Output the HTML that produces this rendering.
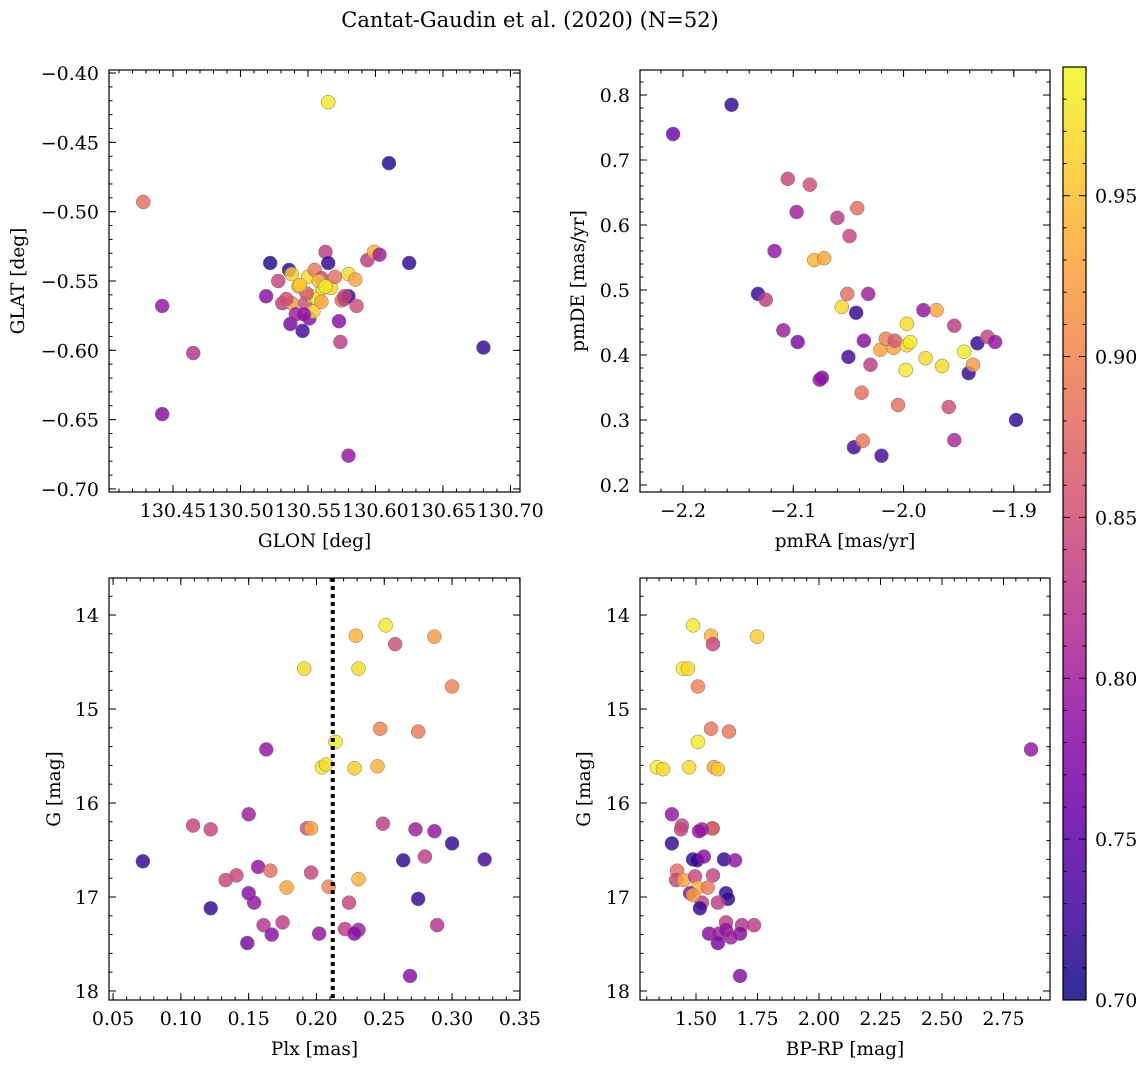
<!DOCTYPE html>
<html><head><meta charset="utf-8"><style>
body{margin:0;background:#fff;}
svg text{font-family:"DejaVu Serif","Liberation Serif",serif;fill:#000;}
</style></head><body>
<svg id="fig" width="1148" height="1067" xmlns="http://www.w3.org/2000/svg">
<text x="530" y="27" font-size="21" text-anchor="middle">Cantat-Gaudin et al. (2020) (N=52)</text>
</svg>
<script>
// ---- Panel 1: GLON vs GLAT ----
const glon=[130.565,130.610,130.428,130.522,130.536,130.519,130.528,130.531,130.537,130.538,130.543,130.546,130.548,130.550,130.551,130.553,130.555,130.557,130.560,130.561,130.563,130.565,130.567,130.573,130.575,130.577,130.574,130.580,130.580,130.585,130.586,130.594,130.599,130.603,130.625,130.680,130.442,130.465,130.442,130.580,130.541,130.558,130.549,130.554,130.534,130.544,130.560,130.570,130.547,130.563,130.577,130.538];
const glat=[-0.421,-0.465,-0.493,-0.537,-0.542,-0.561,-0.550,-0.566,-0.581,-0.566,-0.554,-0.586,-0.566,-0.547,-0.577,-0.561,-0.542,-0.563,-0.548,-0.555,-0.529,-0.537,-0.555,-0.579,-0.564,-0.563,-0.594,-0.561,-0.545,-0.549,-0.568,-0.535,-0.529,-0.531,-0.537,-0.598,-0.568,-0.602,-0.646,-0.676,-0.574,-0.550,-0.559,-0.572,-0.563,-0.553,-0.565,-0.547,-0.574,-0.554,-0.561,-0.545];
const prob1=[0.98,0.71,0.88,0.71,0.72,0.78,0.84,0.83,0.77,0.92,0.93,0.73,0.85,0.97,0.78,0.98,0.89,0.98,0.84,0.98,0.83,0.72,0.97,0.78,0.88,0.84,0.83,0.72,0.97,0.93,0.85,0.83,0.94,0.80,0.72,0.72,0.79,0.82,0.78,0.79,0.80,0.95,0.86,0.96,0.85,0.96,0.93,0.88,0.79,0.98,0.84,0.96];
// ---- Panel 2: pmRA vs pmDE ----
const pmra=[-2.209,-2.156,-2.105,-2.085,-2.097,-2.060,-2.042,-2.049,-2.117,-2.081,-2.072,-2.132,-2.125,-2.051,-2.032,-2.056,-2.043,-2.109,-2.096,-2.036,-2.050,-2.030,-2.074,-2.076,-2.038,-2.045,-2.037,-2.020,-2.005,-2.021,-2.009,-1.997,-1.997,-1.998,-1.994,-1.980,-1.970,-1.965,-1.954,-1.982,-1.959,-1.954,-1.945,-1.941,-1.937,-1.933,-1.924,-1.917,-1.898,-2.016,-2.008];
const pmde=[0.740,0.785,0.671,0.662,0.620,0.611,0.626,0.583,0.560,0.546,0.549,0.494,0.485,0.494,0.494,0.474,0.465,0.438,0.420,0.422,0.397,0.385,0.365,0.362,0.342,0.258,0.268,0.245,0.323,0.408,0.411,0.415,0.448,0.377,0.420,0.395,0.469,0.383,0.445,0.469,0.320,0.269,0.405,0.372,0.385,0.418,0.428,0.420,0.300,0.425,0.422];
const prob2=[0.76,0.72,0.84,0.85,0.80,0.83,0.88,0.84,0.79,0.94,0.93,0.72,0.83,0.88,0.80,0.97,0.72,0.80,0.77,0.78,0.73,0.83,0.77,0.79,0.88,0.73,0.89,0.73,0.88,0.93,0.93,0.97,0.97,0.98,0.98,0.97,0.93,0.97,0.83,0.79,0.85,0.81,0.98,0.72,0.92,0.72,0.84,0.79,0.72,0.90,0.86];
// ---- Panel 3: Plx vs G ----
const plx=[0.191,0.229,0.251,0.258,0.287,0.300,0.231,0.214,0.204,0.207,0.228,0.245,0.247,0.275,0.163,0.150,0.109,0.122,0.193,0.196,0.072,0.249,0.273,0.287,0.300,0.324,0.264,0.280,0.133,0.141,0.157,0.166,0.196,0.178,0.150,0.209,0.231,0.154,0.175,0.161,0.224,0.202,0.221,0.231,0.228,0.167,0.149,0.275,0.289,0.269,0.122];
const gmag3=[14.57,14.22,14.11,14.31,14.23,14.76,14.57,15.35,15.62,15.59,15.63,15.61,15.21,15.24,15.43,16.12,16.24,16.28,16.27,16.27,16.62,16.22,16.28,16.30,16.43,16.60,16.61,16.57,16.82,16.77,16.68,16.72,16.74,16.90,16.96,16.89,16.81,17.06,17.27,17.30,17.06,17.39,17.34,17.35,17.39,17.40,17.49,17.02,17.30,17.84,17.12];
const prob3=[0.97,0.94,0.98,0.85,0.92,0.90,0.97,0.98,0.98,0.97,0.96,0.94,0.90,0.89,0.79,0.80,0.84,0.84,0.85,0.93,0.72,0.83,0.80,0.79,0.72,0.73,0.72,0.83,0.84,0.84,0.79,0.88,0.84,0.93,0.78,0.90,0.94,0.79,0.83,0.82,0.84,0.79,0.83,0.80,0.78,0.78,0.77,0.72,0.82,0.78,0.72];
const plxCut=[0.212];
// ---- Panel 4: BP-RP vs G ----
const bprp=[1.488,1.561,1.748,1.569,1.447,1.467,1.508,1.561,1.634,1.341,1.366,1.472,1.508,1.573,1.589,2.862,1.402,1.443,1.439,1.565,1.568,1.402,1.488,1.504,1.614,1.532,1.524,1.512,1.569,1.423,1.419,1.451,1.496,1.508,1.548,1.476,1.524,1.516,1.622,1.630,1.589,1.622,1.687,1.736,1.553,1.593,1.622,1.679,1.589,1.679,1.488,1.642,1.659];
const gmag4=[14.11,14.22,14.23,14.31,14.57,14.57,14.76,15.21,15.24,15.62,15.64,15.62,15.35,15.62,15.64,15.43,16.12,16.24,16.28,16.27,16.27,16.43,16.60,16.61,16.60,16.57,16.28,16.30,16.77,16.72,16.82,16.82,16.78,16.90,16.90,16.96,17.06,17.12,16.96,17.02,17.06,17.27,17.30,17.30,17.39,17.39,17.35,17.39,17.49,17.84,16.98,17.43,16.61];
const prob4=[0.98,0.94,0.96,0.84,0.98,0.97,0.90,0.89,0.89,0.98,0.97,0.97,0.98,0.93,0.96,0.79,0.79,0.84,0.84,0.95,0.85,0.72,0.72,0.72,0.72,0.78,0.80,0.79,0.84,0.88,0.84,0.93,0.84,0.94,0.89,0.78,0.83,0.72,0.72,0.72,0.83,0.83,0.82,0.83,0.78,0.80,0.79,0.78,0.77,0.78,0.93,0.80,0.79];
// ---- Colorbar ----
const cbarTicks=[0.70,0.75,0.80,0.85,0.90,0.95];
const cbarRange=[0.70,0.99];

const NS="http://www.w3.org/2000/svg";
const svg=document.getElementById('fig');
const TICK_FS=19, LABEL_FS=18.5;
function mk(tag,attrs,parent){const e=document.createElementNS(NS,tag);for(const k in attrs)e.setAttribute(k,attrs[k]);(parent||svg).appendChild(e);return e;}
const plasma=[[13,8,135],[65,4,157],[106,0,168],[143,13,164],[177,42,144],[204,71,120],[225,100,98],[242,132,75],[252,166,54],[252,206,37],[240,249,33]];
function cmap(v){let t=(v-cbarRange[0])/(cbarRange[1]-cbarRange[0]);t=Math.max(0,Math.min(1,t));const f=t*10,i=Math.min(9,Math.floor(f)),r=f-i;const a=plasma[i],b=plasma[i+1];return `rgb(${a.map((c,k)=>Math.round(c+(b[k]-c)*r)).join(',')})`;}
function fmt(v,d){return (v<0?'\u2212':'')+Math.abs(v).toFixed(d);}

function panel(o){
  const g=mk('g',{});
  
  
  const X=v=>o.x0+(v-o.xd[0])/(o.xd[1]-o.xd[0])*(o.x1-o.x0);
  const Y=v=>o.y1-(v-o.yd[0])/(o.yd[1]-o.yd[0])*(o.y1-o.y0);
  const pg=mk('g',{},g);
  
  
  o.xs.forEach((xv,i)=>{
    if(o.ys[i]===undefined)return;
    const c=mk('circle',{cx:X(xv),cy:Y(o.ys[i]),r:7,fill:cmap(o.ps[i]),'fill-opacity':0.82,stroke:'#777','stroke-width':0.5},pg);
    
    
  });
  if(o.vline!==undefined){
    const l=mk('line',{x1:X(o.vline),x2:X(o.vline),y1:o.y0,y2:o.y1,stroke:'#000','stroke-width':4,'stroke-dasharray':'4,4'},g);
    
    
  }
  const tg=mk('g',{stroke:'#000','stroke-width':1},g);
  function ticks(axis,step,len,labels,dec){
    const d=axis==='x'?o.xd:o.yd,lo=Math.min(...d),hi=Math.max(...d);
    for(let k=Math.ceil(lo/step-1e-6);k*step<=hi+1e-9;k++){
      const v=k*step;
      if(axis==='x'){const px=X(v);mk('line',{x1:px,x2:px,y1:o.y1,y2:o.y1-len},tg);mk('line',{x1:px,x2:px,y1:o.y0,y2:o.y0+len},tg);
        if(labels){const t=mk('text',{x:px,y:o.y1+25,'font-size':TICK_FS,'text-anchor':'middle',stroke:'none'},g);t.textContent=fmt(v,dec);}}
      else{const py=Y(v);mk('line',{x1:o.x0,x2:o.x0+len,y1:py,y2:py},tg);mk('line',{x1:o.x1,x2:o.x1-len,y1:py,y2:py},tg);
        if(labels){const t=mk('text',{x:o.x0-10,y:py+7,'font-size':TICK_FS,'text-anchor':'end',stroke:'none'},g);t.textContent=fmt(v,dec);}}
    }
  }
  ticks('x',o.xmaj,7,true,o.xdec);ticks('x',o.xmin,3.5,false);
  ticks('y',o.ymaj,7,true,o.ydec);ticks('y',o.ymin,3.5,false);
  const fr=mk('rect',{x:o.x0,y:o.y0,width:o.x1-o.x0,height:o.y1-o.y0,fill:'none',stroke:'#000','stroke-width':1.2},g);
  
  
  const xl=mk('text',{x:(o.x0+o.x1)/2,y:o.y1+55,'font-size':LABEL_FS,'text-anchor':'middle'},g);
  xl.textContent=o.xlabel;
  
  
  const yl=mk('text',{x:0,y:0,'font-size':LABEL_FS,'text-anchor':'middle',transform:`translate(${o.ylx},${(o.y0+o.y1)/2}) rotate(-90)`},g);
  yl.textContent=o.ylabel;
  
  
}
panel({name:'glon-glat-panel',x0:109,x1:520,y0:70,y1:492,xd:[130.4026,130.7071],yd:[-0.7022,-0.3978],xs:glon,ys:glat,ps:prob1,xmaj:0.05,xmin:0.01,xdec:2,ymaj:0.05,ymin:0.01,ydec:2,xlabel:'GLON [deg]',ylabel:'GLAT [deg]',ylx:24});
panel({name:'proper-motion-panel',x0:640,x1:1050,y0:70,y1:492,xd:[-2.2390,-1.8672],yd:[0.1892,0.8385],xs:pmra,ys:pmde,ps:prob2,xmaj:0.1,xmin:0.02,xdec:1,ymaj:0.1,ymin:0.02,ydec:1,xlabel:'pmRA [mas/yr]',ylabel:'pmDE [mas/yr]',ylx:584});
panel({name:'parallax-magnitude-panel',x0:109,x1:520,y0:578,y1:1000,xd:[0.0470,0.3501],yd:[18.096,13.606],xs:plx,ys:gmag3,ps:prob3,xmaj:0.05,xmin:0.01,xdec:2,ymaj:1,ymin:0.2,ydec:0,xlabel:'Plx [mas]',ylabel:'G [mag]',ylx:60,vline:plxCut[0]});
panel({name:'color-magnitude-panel',x0:640,x1:1050,y0:578,y1:1000,xd:[1.2724,2.9390],yd:[18.096,13.606],xs:bprp,ys:gmag4,ps:prob4,xmaj:0.25,xmin:0.05,xdec:2,ymaj:1,ymin:0.2,ydec:0,xlabel:'BP-RP [mag]',ylabel:'G [mag]',ylx:590});

(function(){
  const cx0=1063,cx1=1086,cy0=67,cy1=1000;
  const g=mk('g',{});
  
  
  const defs=mk('defs',{},g);
  const lg=mk('linearGradient',{id:'pl',x1:0,y1:1,x2:0,y2:0},defs);
  plasma.forEach((c,i)=>mk('stop',{offset:i/10,'stop-color':`rgb(${c.join(',')})`},lg));
  mk('rect',{x:cx0,y:cy0,width:cx1-cx0,height:cy1-cy0,fill:'url(#pl)','fill-opacity':0.85},g);
  mk('rect',{x:cx0,y:cy0,width:cx1-cx0,height:cy1-cy0,fill:'none',stroke:'#000','stroke-width':1.2},g);
  const Y=v=>cy1-(v-cbarRange[0])/(cbarRange[1]-cbarRange[0])*(cy1-cy0);
  for(let k=70;k<=99;k++){const py=Y(k/100);const maj=k%5===0;mk('line',{x1:cx1,x2:cx1-(maj?7:3.5),y1:py,y2:py,stroke:'#000'},g);mk('line',{x1:cx0,x2:cx0+(maj?7:3.5),y1:py,y2:py,stroke:'#000'},g);}
  cbarTicks.forEach(v=>{const t=mk('text',{x:cx1+9,y:Y(v)+7,'font-size':TICK_FS},g);t.textContent=v.toFixed(2);});
})();
</script>
</body></html>
